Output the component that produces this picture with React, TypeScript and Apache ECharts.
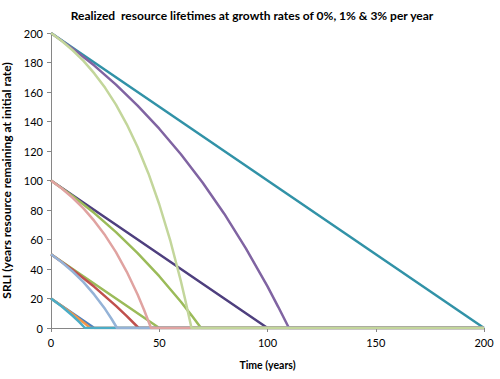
import React, { useEffect, useRef } from "react";
import * as echarts from "echarts";

const title = "Realized  resource lifetimes at growth rates of 0%, 1% & 3% per year";
const xName = "Time (years)";
const yName = "SRLI (years resource remaining at initial rate)";

// [time, SRLI] points
const s20r0 = [[0, 20], [20, 0], [200, 0]];
const s50r0 = [[0, 50], [50, 0], [200, 0]];
const s100r0 = [[0, 100], [100, 0], [200, 0]];
const s200r0 = [[0, 200], [200, 0]];

const s20r1 = [[0, 20], [5, 14.9], [10, 9.5], [15, 3.8], [18.2, 0], [200, 0]];
const s50r1 = [[0, 50], [10, 39.5], [20, 27.9], [30, 15], [35, 8.1], [40.5, 0], [200, 0]];
const s100r1 = [[0, 100], [10, 89.5], [20, 77.9], [30, 65], [40, 50.8], [50, 35.1], [60, 17.8], [65, 8.4], [69.3, 0], [200, 0]];
const s200r1 = [[0, 200], [10, 189.5], [20, 177.9], [30, 165], [40, 150.8], [50, 135.1], [60, 117.8], [70, 98.6], [80, 77.5], [90, 54], [100, 28.2], [105, 14.2], [109.9, 0], [200, 0]];

const s20r3 = [[0, 20], [5, 14.6], [10, 8.3], [13, 4.1], [15.7, 0], [200, 0]];
const s50r3 = [[0, 50], [5, 44.6], [10, 38.3], [15, 31.1], [20, 22.6], [25, 12.8], [28, 6.1], [30.5, 0], [200, 0]];
const s100r3 = [[0, 100], [5, 94.6], [10, 88.3], [15, 81.1], [20, 72.6], [25, 62.8], [30, 51.4], [35, 38.1], [40, 22.7], [43, 12.2], [46.2, 0], [200, 0]];
const s200r3 = [[0, 200], [5, 194.6], [10, 188.3], [15, 181.1], [20, 172.6], [25, 162.8], [30, 151.4], [35, 138.1], [40, 122.7], [45, 104.8], [50, 83.9], [55, 59.8], [60, 31.7], [62, 19.2], [64.9, 0], [200, 0]];

const seriesList: [string, number[][], string][] = [
  ["20 @ 0%", s20r0, "#4F81BD"],
  ["50 @ 0%", s50r0, "#9BBB59"],
  ["100 @ 0%", s100r0, "#4E3F7E"],
  ["200 @ 0%", s200r0, "#3192A7"],
  ["20 @ 1%", s20r1, "#F79646"],
  ["50 @ 1%", s50r1, "#C0504D"],
  ["100 @ 1%", s100r1, "#9BBB59"],
  ["200 @ 1%", s200r1, "#8064A2"],
  ["20 @ 3%", s20r3, "#4BACC6"],
  ["50 @ 3%", s50r3, "#95B3D7"],
  ["100 @ 3%", s100r3, "#E0A3A1"],
  ["200 @ 3%", s200r3, "#C3D69B"],
];

const FONT = "Lato, 'Open Sans', sans-serif";

export default function App() {
  const ref = useRef<HTMLDivElement>(null);
  useEffect(() => {
    if (!ref.current) return;
    const chart = echarts.init(ref.current, undefined, { renderer: "svg" });
    chart.setOption({
      animation: false,
      backgroundColor: "#ffffff",
      title: {
        text: title,
        left: 247,
        textAlign: "center",
        top: 4,
        textStyle: { fontFamily: FONT, fontSize: 12, fontWeight: "bold", color: "#000" },
      },
      grid: { left: 51, right: 16, top: 33, bottom: 51, outerBoundsMode: "none", containLabel: false },
      xAxis: {
        type: "value",
        min: 0,
        max: 200,
        interval: 50,
        name: xName,
        nameLocation: "middle",
        nameGap: 31,
        nameTextStyle: { fontFamily: FONT, fontSize: 10.5, fontWeight: "bold", color: "#000" },
        axisLine: { lineStyle: { color: "#868686", width: 1 } },
        axisTick: { show: true, length: 4, lineStyle: { color: "#868686" } },
        axisLabel: { fontFamily: FONT, fontSize: 11, color: "#000", margin: 9 },
        splitLine: { show: false },
      },
      yAxis: {
        type: "value",
        min: 0,
        max: 200,
        interval: 20,
        name: yName,
        nameLocation: "middle",
        nameRotate: 90,
        nameGap: 32,
        nameTextStyle: { fontFamily: FONT, fontSize: 12, fontWeight: "bold", color: "#000" },
        axisLine: { show: true, lineStyle: { color: "#868686", width: 1 } },
        axisTick: { show: true, length: 4, lineStyle: { color: "#868686" } },
        axisLabel: { fontFamily: FONT, fontSize: 11, color: "#000", margin: 8 },
        splitLine: { show: false },
      },
      series: seriesList.map(([name, data, color]) => ({
        name,
        type: "line",
        data,
        showSymbol: false,
        symbol: "none",
        lineStyle: { color, width: 2.5 },
        itemStyle: { color },
      })),
    });
    return () => chart.dispose();
  }, []);
  return <div ref={ref} style={{ width: 500, height: 379, position: "absolute", left: 0, top: 0 }} />;
}
